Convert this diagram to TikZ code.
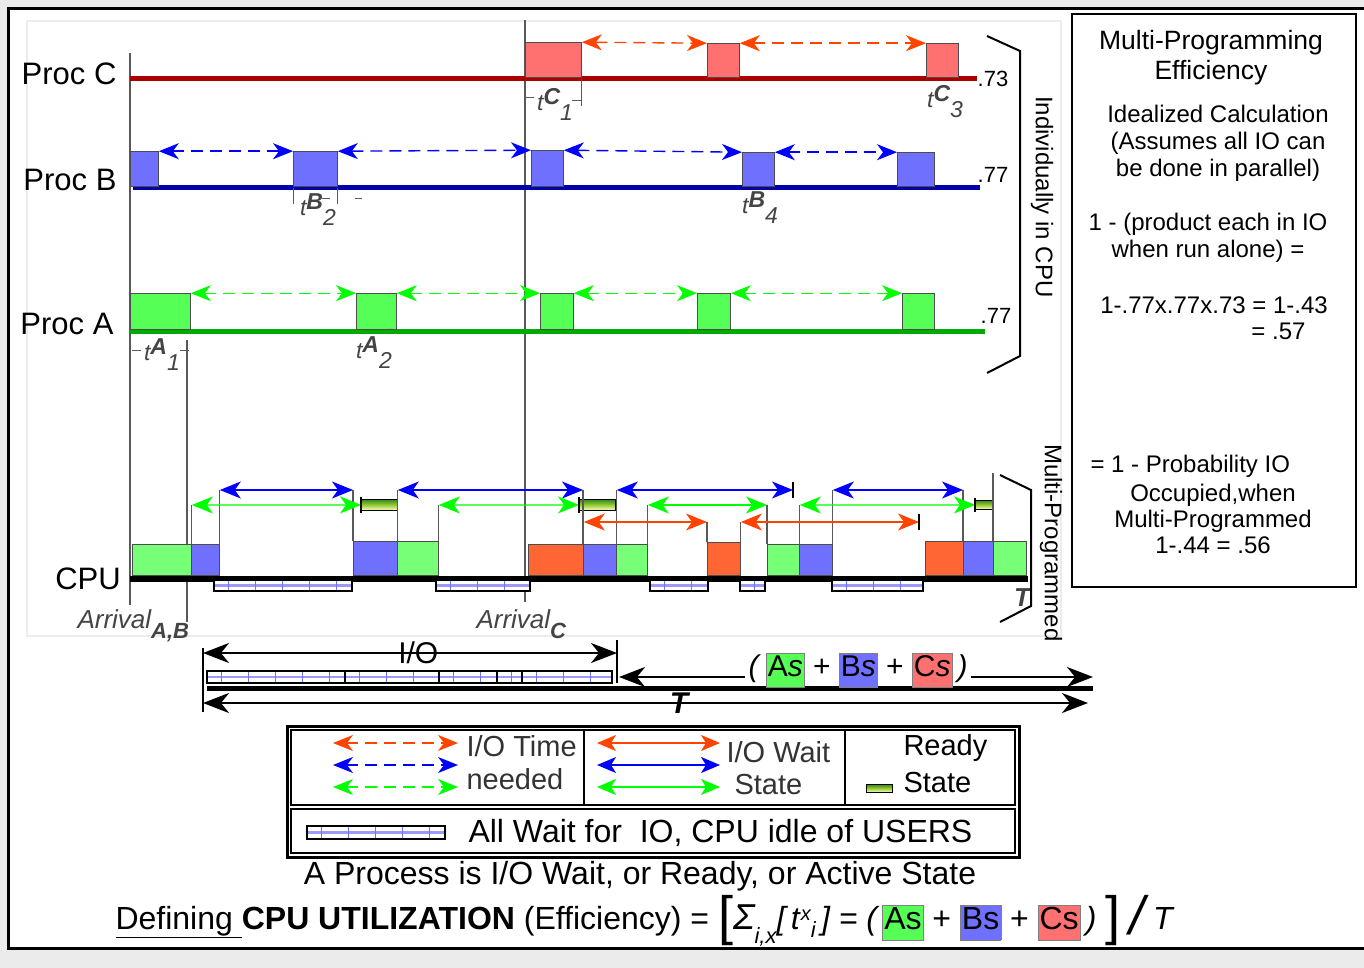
\documentclass[tikz,border=0pt]{standalone}
\usepackage{fontspec}
\setmainfont{Liberation Sans}
\usetikzlibrary{arrows.meta}
\usetikzlibrary{positioning}

\definecolor{procCred}{HTML}{AA0000}
\definecolor{procBblue}{HTML}{0000AA}
\definecolor{procAgreen}{HTML}{00AA00}
\definecolor{boxC}{HTML}{FF7070}
\definecolor{boxB}{HTML}{7070FF}
\definecolor{boxA}{HTML}{55FF55}
\definecolor{cpuA}{HTML}{77FF77}
\definecolor{cpuC}{HTML}{FF6633}
\definecolor{ioC}{HTML}{FF4400}
\definecolor{ioB}{HTML}{0000FF}
\definecolor{ioA}{HTML}{00FF00}
\definecolor{pagegrey}{HTML}{EBEBEB}
\definecolor{labgrey}{HTML}{444444}
\definecolor{leggrey}{HTML}{333333}
\definecolor{readyTop}{HTML}{338822}
\definecolor{readyMid}{HTML}{99CC33}
\definecolor{readyBot}{HTML}{FFFFCC}
\setlength{\fboxsep}{1.5pt}

% hatched "all wait" bar: left, right, top, height
\newcommand{\idlebox}[4]{%
  \draw[black, line width=2pt, fill=white] (#1,#3) rectangle (#2,#3+#4);
  \begin{scope}
    \clip (#1,#3) rectangle (#2,#3+#4);
    \draw[boxB!70, line width=2.5pt] (#1,#3+#4/2) -- (#2,#3+#4/2);
    \foreach \k in {0,...,15}
      \draw[boxB, line width=0.9pt] (#1+14+\k*27,#3) -- ++(0,#4);
  \end{scope}
  \draw[black, line width=2pt] (#1,#3) rectangle (#2,#3+#4);
}
\newcommand{\tlab}[2]{t\raisebox{6pt}{\bfseries #1}\raisebox{-10pt}{#2}}
\newcommand{\colbox}[2]{\fcolorbox{gray}{#1}{\strut #2}}

\begin{document}
\begin{tikzpicture}[x=1pt, y=-1pt,
    vline/.style={gray!70!black, line width=1.1pt},
    pbox/.style={draw=gray!60!black, line width=0.8pt, anchor=south west, inner sep=0pt},
    cpubox/.style={draw=gray!60!black, line width=0.8pt, anchor=south west, inner sep=0pt},
    readybox/.style={draw=black, line width=0.8pt, top color=readyTop, bottom color=readyBot, middle color=readyMid, anchor=north west, inner sep=0pt},
    barend/.style={black, line width=2.5pt},
    iotime/.style={<->, >={Stealth[length=20pt,width=16pt,inset=6pt]}, dash pattern=on 12pt off 7pt, line width=1.4pt},
    iowait/.style={<->, >={Stealth[length=21pt,width=17pt,inset=6pt]}, line width=1.3pt},
    legwait/.style={<->, >={Stealth[length=19pt,width=16pt,inset=5pt]}, line width=1.4pt},
    bigtip/.style={>={Stealth[length=26pt,width=20pt,inset=8pt]}, line width=2.5pt},
    bigarrow/.style={bigtip, <->},
    proclab/.style={font=\fontsize{31}{31}\selectfont, anchor=east},
    tlabel/.style={text=labgrey, font=\fontsize{23}{23}\selectfont\itshape},
    vallab/.style={font=\fontsize{22}{22}\selectfont},
    sidelab/.style={font=\fontsize{24}{24}\selectfont, rotate=-90},
    paneltxt/.style={font=\fontsize{24}{27}\selectfont, align=center},
    legtxt/.style={font=\fontsize{29}{29}\selectfont, anchor=west, text=leggrey}
  ]
  \useasboundingbox (0,0) rectangle (1364,968);

  % page, frame and panels
  \fill[pagegrey] (0,0) rectangle (1364,968);
  \draw[line width=3pt, fill=white] (8,9) rectangle (1380,948);
  \draw[gray!15, line width=2pt] (27,21) rectangle (1061,636);
  \draw[line width=2.5pt] (1072,14) rectangle (1356,587);

  % arrival markers
  \draw[vline] (130,53) -- (130,605);
  \draw[vline] (525,20) -- (525,602);
  \draw[vline] (187,340) -- (187,622);

  % Proc C
  \draw[line width=5pt, procCred] (130,79) -- (977,79);
  \foreach \name/\x/\w/\h in {c1/525/56/35, c2/707/32/34, c3/926/32/34}
    \node[pbox, fill=boxC, minimum width=\w pt, minimum height=\h pt] (\name) at (\x,78) {};
  \foreach \a/\b in {c1/c2, c2/c3}
    \draw[iotime, ioC] (\a.north east) -- (\b.north west);

  % Proc B
  \draw[line width=5pt, procBblue] (133,188) -- (980,188);
  \foreach \name/\x/\w/\h in {b1/130/28/35, b2/293/44/35, b3/531/32/36, b4/742/32/34, b5/897/37/34}
    \node[pbox, fill=boxB, minimum width=\w pt, minimum height=\h pt] (\name) at (\x,187) {};
  \foreach \a/\b in {b1/b2, b2/b3, b3/b4, b4/b5}
    \draw[iotime, ioB] (\a.north east) -- (\b.north west);

  % Proc A
  \draw[line width=5pt, procAgreen] (130,331) -- (985,331);
  \foreach \name/\x/\w/\h in {a1/130/60/36, a2/356/40/36, a3/540/33/36, a4/697/33/36, a5/902/32/36}
    \node[pbox, fill=boxA, minimum width=\w pt, minimum height=\h pt] (\name) at (\x,330) {};
  \foreach \a/\b in {a1/a2, a2/a3, a3/a4, a4/a5}
    \draw[iotime, ioA] (\a.north east) -- (\b.north west);

  % burst ticks
  \draw[vline, line width=0.8pt] (581,79) -- (581,106) (525,97) -- (534,97) (572,100) -- (581,100);
  \draw[vline, line width=0.8pt] (293,188) -- (293,204) (337,188) -- (337,204) (322,198) -- (330,198) (355,198) -- (362,198);
  \draw[vline, line width=0.8pt] (132,350) -- (141,350) (180,350) -- (189,350);

  \node[proclab] (procC) at (120,74) {Proc C};
  \node[proclab] (procB) at (120,180) {Proc B};
  \node[proclab] (procA) at (117,324) {Proc A};

  \node[tlabel] (tc1) at (555,104) {\tlab{C}{1}};
  \node[tlabel] (tc3) at (945,102) {\tlab{C}{3}};
  \node[tlabel] (tb2) at (318,210) {\tlab{B}{2}};
  \node[tlabel] (tb4) at (760,208) {\tlab{B}{4}};
  \node[tlabel] (ta1) at (162,355) {\tlab{A}{1}};
  \node[tlabel] (ta2) at (374,353) {\tlab{A}{2}};

  \node[vallab] (vc) at (993,79) {.73};
  \node[vallab] (vb) at (993,175) {.77};
  \node[vallab] (va) at (996,316) {.77};

  \draw[line width=2pt] (987,36) -- (1020,51) -- (1020,356) -- (987,373);
  \node[sidelab] (indiv) at (1042,197) {Individually in CPU};

  % CPU row
  \draw[line width=6pt] (130,579) -- (1028,579);
  \foreach \name/\x/\w/\h/\col in {p1/132/59/31/cpuA, p2/191/28/31/boxB, p3/353/44/34/boxB,
      p4/397/41/34/cpuA, p5/528/55/31/cpuC, p6/583/33/31/boxB, p7/616/31/31/cpuA,
      p8/707/33/33/cpuC, p9/767/32/31/cpuA, p10/799/33/31/boxB, p11/925/38/34/cpuC,
      p12/963/30/34/boxB, p13/993/33/34/cpuA}
    \node[cpubox, fill=\col, minimum width=\w pt, minimum height=\h pt] (\name) at (\x,576) {};

  \idlebox{214}{352}{580}{11}
  \idlebox{436}{530}{580}{11}
  \idlebox{650}{708}{580}{11}
  \idlebox{740}{765}{580}{11}
  \idlebox{832}{923}{580}{11}

  \coordinate (lvT) at (0,473);
  \coordinate (lvB) at (0,490);
  \coordinate (lvA) at (0,505);
  \coordinate (lvC) at (0,522);
  \coordinate (bB) at (793,490);
  \coordinate (bC) at (919,522);

  \node[readybox, minimum width=36pt, minimum height=11pt] (r1) at (361,499) {};
  \node[readybox, minimum width=36pt, minimum height=11pt] (r2) at (579,499) {};
  \node[readybox, minimum width=18pt, minimum height=9pt] (r3) at (975,500) {};

  \foreach \c/\l in {p1.north east/lvA, p2.north east/lvB, p3.north west/lvB, p3.north east/lvB,
      p4.north east/lvA, p6.north west/lvB, p6.north east/lvB, p7.north east/lvA,
      p8.north west/lvC, p8.north east/lvC, p9.north west/lvA, p9.north east/lvA,
      p10.north east/lvB, p12.north west/lvB, p13.north west/lvT}
    \draw[vline] (\c) -- (\c |- \l);

  \draw[iowait, ioB] (p2.north east |- lvB) -- (p3.north west |- lvB);
  \draw[iowait, ioB] (p3.north east |- lvB) -- (p6.north west |- lvB);
  \draw[iowait, ioB] (p6.north east |- lvB) -- (bB);
  \draw[iowait, ioB] (p10.north east |- lvB) -- (p12.north west |- lvB);
  \draw[iowait, ioA] (p1.north east |- lvA) -- (r1.west);
  \draw[iowait, ioA] (p4.north east |- lvA) -- (r2.west);
  \draw[iowait, ioA] (p7.north east |- lvA) -- (p9.north west |- lvA);
  \draw[iowait, ioA] (p9.north east |- lvA) -- (r3.west);
  \draw[iowait, ioC] (p5.north east |- lvC) -- (p8.north west |- lvC);
  \draw[iowait, ioC] (p8.north east |- lvC) -- (bC);
  \draw[barend] ([yshift=-8pt]bB) -- ([yshift=8pt]bB);
  \draw[barend] ([yshift=-8pt]bC) -- ([yshift=8pt]bC);
  \foreach \r in {r1,r2,r3}
    \draw[barend] ([yshift=2pt]\r.north west) -- ([yshift=-2pt]\r.south west);

  \node[font=\fontsize{31}{31}\selectfont] (cpu) at (88,579) {CPU};
  \node[anchor=base west, text=labgrey, font=\fontsize{26}{26}\selectfont\itshape] (arrAB) at (74,628)
    {Arrival\raisebox{-10pt}{\fontsize{22}{22}\selectfont\bfseries A,B}};
  \node[anchor=base west, text=labgrey, font=\fontsize{26}{26}\selectfont\itshape] (arrC) at (473,628)
    {Arrival\raisebox{-10pt}{\fontsize{22}{22}\selectfont\bfseries C}};
  \node[text=labgrey, font=\fontsize{26}{26}\selectfont\bfseries\itshape] (tend) at (1022,598) {T};

  \draw[line width=2pt] (1000,475) -- (1031,490) -- (1031,606) -- (1000,622);
  \node[sidelab] (multi) at (1051,543) {Multi-Programmed};

  % I/O and T totals
  \draw[vline, black, line width=1.5pt] (203,648) -- (203,712);
  \draw[vline, black, line width=1.5pt] (617,640) -- (617,683);
  \coordinate (ioL) at (203,653);
  \coordinate (ioR) at (617,653);
  \draw[bigarrow] (ioL) -- node[pos=0.52, font=\fontsize{30}{30}\selectfont] (iotxt) {I/O} (ioR);

  \idlebox{207}{345}{671}{12}
  \idlebox{345}{439}{671}{12}
  \idlebox{439}{497}{671}{12}
  \idlebox{497}{522}{671}{12}
  \idlebox{522}{612}{671}{12}
  \draw[line width=5pt] (207,688) -- (1093,688);

  \node[font=\fontsize{30}{30}\selectfont] (sumtxt) at (858,670)
    {\textit{(}\,\colbox{boxA}{A\textit{s}} + \colbox{boxB}{B\textit{s}} + \colbox{boxC}{C\textit{s}}\,\textit{)}};
  \coordinate (sumL) at (619,677);
  \coordinate (sumR) at (1093,677);
  \draw[bigtip, <-] (sumL) -- (sumtxt.west |- sumL);
  \draw[bigtip, ->] (sumtxt.east |- sumL) -- (sumR);

  \coordinate (tL) at (203,703);
  \coordinate (tR) at (1088,703);
  \draw[bigarrow] (tL) -- node[pos=0.538, font=\fontsize{30}{30}\selectfont\bfseries\itshape] (ttxt) {T} (tR);

  % legend
  \draw[line width=3pt] (287,726) rectangle (1019,857);
  \draw[line width=2.5pt] (291,730) rectangle (584,805);
  \draw[line width=2.5pt] (584,730) rectangle (845,805);
  \draw[line width=2.5pt] (845,730) rectangle (1015,805);
  \draw[line width=2.5pt] (291,809) rectangle (1015,853);
  \foreach \col/\yy [count=\i] in {ioC/743, ioB/765, ioA/787} {
    \coordinate (tm\i) at (333,\yy);
    \coordinate (tn\i) at (458,\yy);
    \draw[iotime, \col] (tm\i) -- (tn\i);
    \coordinate (ws\i) at (597,\yy);
    \coordinate (we\i) at (720,\yy);
    \draw[legwait, \col] (ws\i) -- (we\i);
  }
  \node[legtxt] (iotimetxt) at (463,746) {I/O Time};
  \node[legtxt] (neededtxt) at (463,779) {needed};
  \node[legtxt] (waittxt) at (723,752) {I/O Wait};
  \node[legtxt] (statetxt) at (731,785) {State};
  \node[legtxt, text=black] (readytxt) at (900,748) {Ready};
  \node[legtxt, text=black] (rstatetxt) at (900,783) {State};
  \node[readybox, minimum width=26pt, minimum height=8pt] (rlegend) at (866,784) {};
  \idlebox{307}{445}{826}{13}
  \node[legtxt, text=black, font=\fontsize{32}{32}\selectfont] (allwait) at (465,833) {All Wait for\ \ IO, CPU idle of USERS};

  \node[font=\fontsize{32}{32}\selectfont] (states) at (640,876) {A Process is I/O Wait, or Ready, or Active State};
  \node[anchor=base west, font=\fontsize{32}{32}\selectfont] (cpuutil) at (112,929)
    {\underline{Defining\ }\textbf{CPU UTILIZATION} (Efficiency) = \raisebox{-5pt}{\fontsize{54}{54}\selectfont[}{\fontsize{36}{36}\selectfont\itshape Σ}\raisebox{-14pt}{\fontsize{22}{22}\selectfont\itshape i,x}\textit{[\,t}\raisebox{9pt}{\fontsize{20}{20}\selectfont\itshape x}\raisebox{-8pt}{\fontsize{22}{22}\selectfont\itshape i}\textit{\,] = (\,}\colbox{boxA}{As} + \colbox{boxB}{Bs} + \colbox{boxC}{Cs}\textit{\,)}\ \raisebox{-5pt}{\fontsize{54}{54}\selectfont]}\ \raisebox{-5pt}{\fontsize{54}{54}\selectfont\itshape /}\ \textit{T}};

  % efficiency panel
  \node[paneltxt, font=\fontsize{26.5}{30}\selectfont] (mpe) at (1211,58) {Multi-Programming\\Efficiency};
  \node[paneltxt] (ideal) at (1218,143) {Idealized Calculation\\(Assumes all IO can\\be done in parallel)};
  \node[paneltxt] (prod) at (1208,238) {1 - (product each in IO\\when run alone) =};
  \node[paneltxt] (calc) at (1214,305) {1-.77x.77x.73 = 1-.43};
  \node[paneltxt, anchor=east] (res) at (1309,331) {= .57};
  \node[paneltxt, anchor=west] (prob) at (1087,466) {= 1 - Probability IO};
  \node[paneltxt, font=\fontsize{24}{26}\selectfont] (occ) at (1213,519) {Occupied,when\\Multi-Programmed\\1-.44 = .56};
\end{tikzpicture}
\end{document}
